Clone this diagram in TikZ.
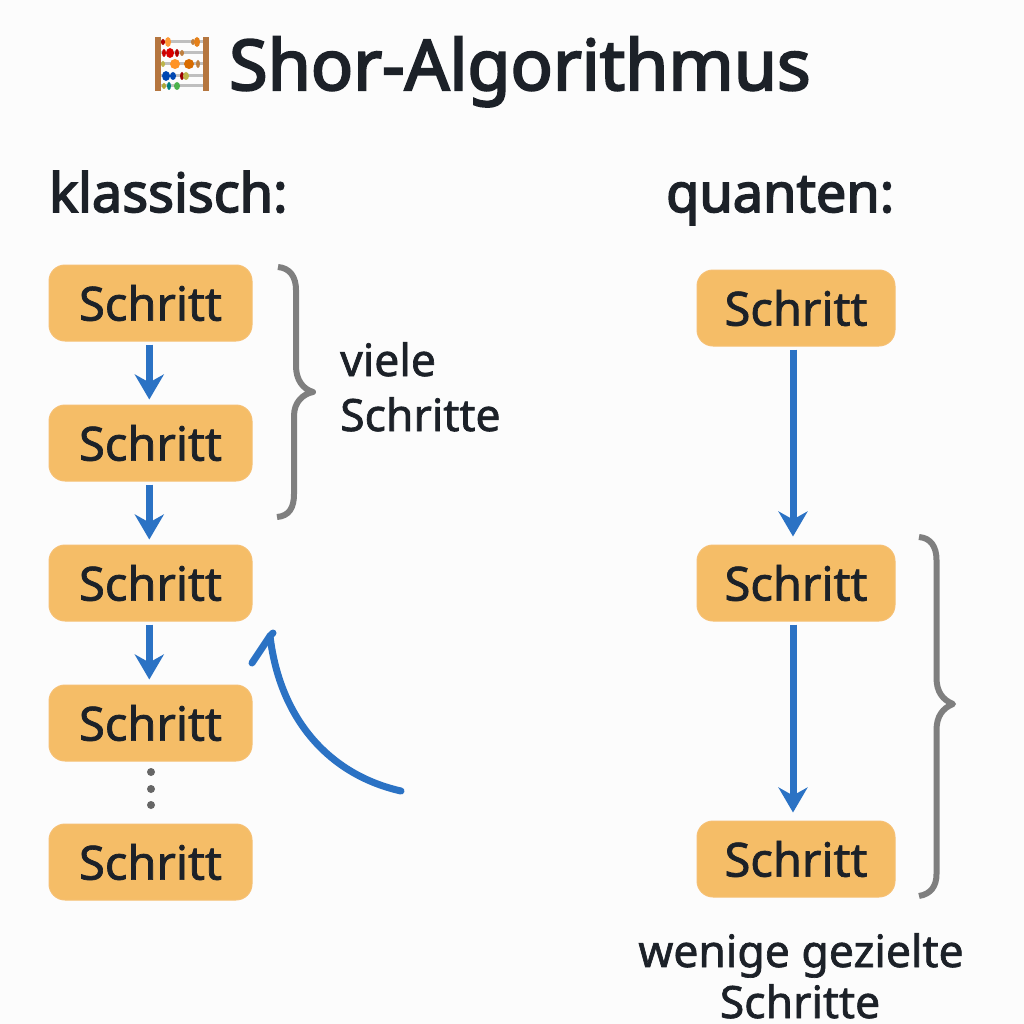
\documentclass[tikz,border=0pt]{standalone}
\usepackage{fontspec}
\setmainfont{Noto Sans}
\newfontfamily\medfont[FakeBold=1.5]{Noto Sans}
\newfontfamily\boldfont[FakeBold=3]{Noto Sans}
\usetikzlibrary{arrows.meta}
\definecolor{bgc}{HTML}{FCFCFC}
\definecolor{boxf}{HTML}{F5BD67}
\definecolor{boxd}{HTML}{F6C074}
\definecolor{ink}{HTML}{1C2128}
\definecolor{arrowc}{HTML}{2B72C4}
\definecolor{bracec}{HTML}{7F7F7F}
\definecolor{dotc}{HTML}{666666}
\definecolor{wood}{HTML}{B5763F}
\newcommand\stp{Schritt\hspace{3pt}}
\tikzset{
  x=1pt,y=-1pt,
  stepbox/.style={draw=boxd,line width=1pt,fill=boxf,rounded corners=16pt,minimum height=76pt,inner sep=0pt,text=ink,font=\medfont\fontsize{47}{47}\selectfont},
  flow/.style={draw=arrowc,line width=7pt,-{Stealth[length=25pt,width=29pt,inset=8pt]},shorten >=5pt,shorten <=3pt},
  curl/.style={draw=bracec,line width=6pt,line join=round},
  heading/.style={inner sep=0pt,anchor=base west,text=ink,font=\boldfont\fontsize{54}{54}\selectfont},
  note/.style={inner sep=0pt,text=ink,font=\medfont\fontsize{44.5}{44.5}\selectfont},
  bead/.style={circle,inner sep=0pt},
}
\begin{document}
\begin{tikzpicture}
\useasboundingbox (0,0) rectangle (1024,1024);
\fill[bgc] (0,0) rectangle (1024,1024);
% abacus icon
\foreach \yy in {42,53,64,76,86}{\fill[black!25] (160,\yy-1.5) rectangle (205,\yy+1.5);}
\fill[wood] (155,37) rectangle (161,91);
\fill[wood] (203,37) rectangle (209,91);
\foreach \xx/\yy/\rx/\ry/\cc in {
 163/42/2/3/red!70!black,168/42/3/5/orange!80,193/42/2/3/brown,197/42/3/5/orange!60!brown,
 164/53/2/4/red!80!black,170/53/4/5/red!85!black,177/53/2/4/red!70!black,182/53/2/3/brown,
 163/64/2/3/olive!60,175/64/5/5/orange!85,189/64/5/5/orange!85!black,198/64/2/4/brown,
 166/76/4/5/blue!60!cyan!70!black,173/76/3/4/blue!60!cyan!70!black,182/76/2/4/red!60!black,186/76/3/4/olive!60,
 164/86/2/3/olive!70,169/86/2/4/teal,177/86/3/4/green!40!gray}
 {\fill[\cc] (\xx,\yy) ellipse[x radius=\rx,y radius=\ry];}
% title and headings
\node[inner sep=0pt,anchor=base west,text=ink,font=\boldfont\fontsize{70}{70}\selectfont] (title) at (229,90) {Shor-Algorithmus};
\node[heading] (hl) at (49,212) {klassisch:};
\node[heading] (hr) at (666,212) {quanten:};
% classic column
\node[stepbox,minimum width=203pt] (a1) at (150.5,303) {\stp};
\node[stepbox,minimum width=203pt] (a2) at (150.5,443) {\stp};
\node[stepbox,minimum width=203pt] (a3) at (150.5,583) {\stp};
\node[stepbox,minimum width=203pt] (a4) at (150.5,723) {\stp};
\node[stepbox,minimum width=203pt] (a5) at (150.5,862) {\stp};
\draw[flow] ([xshift=-1.2pt]a1.south) -- ([xshift=-1.2pt]a2.north);
\draw[flow] ([xshift=-1.2pt]a2.south) -- ([xshift=-1.2pt]a3.north);
\draw[flow] ([xshift=-1.2pt]a3.south) -- ([xshift=-1.2pt]a4.north);
\foreach \yy [count=\i] in {772,789,805}{\node[bead,fill=dotc,minimum size=8pt] (d\i) at (151,\yy) {};}
% quantum column
\node[stepbox,minimum width=198pt] (b1) at (796,308) {\stp};
\node[stepbox,minimum width=198pt] (b2) at (796,583) {\stp};
\node[stepbox,minimum width=198pt] (b3) at (796,859) {\stp};
\draw[flow,shorten >=8pt] ([xshift=-3pt]b1.south) -- ([xshift=-3pt]b2.north);
\draw[flow,shorten >=8pt] ([xshift=-3pt]b2.south) -- ([xshift=-3pt]b3.north);
% curved arrow
\coordinate (cs) at (401,791);
\coordinate (ce) at (270,636);
\coordinate (cb) at (252,663);
\draw[draw=arrowc,line width=7pt,line cap=round] (cs) .. controls (330,775) and (280,720) .. (ce);
\draw[draw=arrowc,line width=7pt,line cap=round] (cb) -- (ce) -- (273,633);
% braces
\draw[curl] (278,267) .. controls (290,268) and (296,277) .. (296,290) -- (296,366) .. controls (296,380) and (303,389) .. (313,392) .. controls (303,394) and (294,402) .. (294,416) -- (294,494) .. controls (294,508) and (289,516) .. (277,517);
\draw[curl] (919,537) .. controls (931,538) and (936.5,547) .. (936.5,560) -- (936.5,678) .. controls (936.5,692) and (943,700) .. (953,704) .. controls (943,708) and (936.5,716) .. (936.5,730) -- (936.5,874) .. controls (936.5,886) and (931,894) .. (919,896);
% notes
\node[note,anchor=base west] (n1) at (340,376) {viele};
\node[note,anchor=base west] (n2) at (340,431) {Schritte};
\node[note,anchor=base] (n3) at (801,967) {wenige gezielte};
\node[note,anchor=base] (n4) at (800,1018) {Schritte};
\end{tikzpicture}
\end{document}
